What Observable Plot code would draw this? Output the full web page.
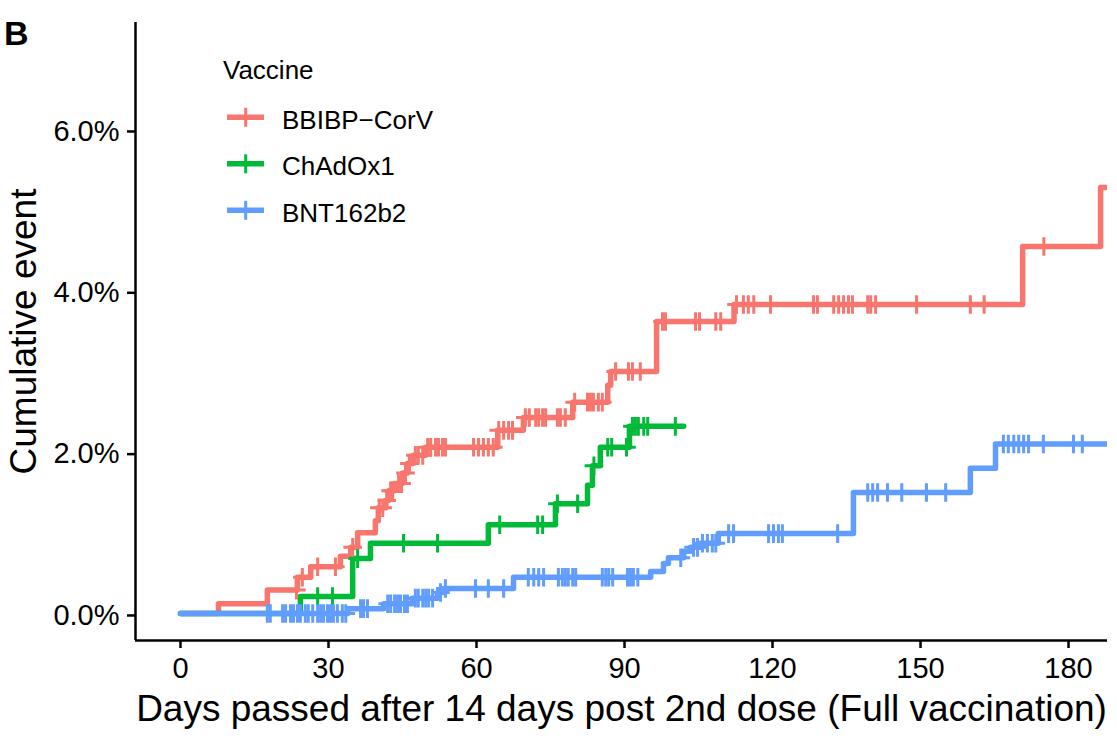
<!DOCTYPE html>
<html>
<head>
<meta charset="utf-8">
<script src="https://cdn.jsdelivr.net/npm/d3@7"></script>
<script src="https://cdn.jsdelivr.net/npm/@observablehq/plot@0.6"></script>
<style>
  html, body { margin: 0; padding: 0; background: #fff; }
  #wrap { position: relative; width: 1117px; height: 738px; font-family: "Liberation Sans", Arial, Helvetica, sans-serif; }
  #overlay { position: absolute; left: 0; top: 0; pointer-events: none; }
</style>
</head>
<body>
<div id="wrap"></div>
<script>
// ---- data ----
const vaccines = ["BBIBP\u2212CorV", "ChAdOx1", "BNT162b2"];
const colors = ["#F8766D", "#00BA38", "#619CFF"];

const redTimes = [0, 7.7, 17.6, 23.7, 26.4, 32.4, 34.5, 35.9, 39.5, 40.1, 41.6, 42.2, 43.4, 45.0, 46.0, 47.2, 49.7, 64.3, 69.5, 79.5, 86.6, 87.2, 96.5, 112.2, 170.7, 186.5, 190];
const redCum   = [0, 0.12, 0.29, 0.45, 0.58, 0.71, 0.82, 1.00, 1.15, 1.31, 1.40, 1.52, 1.61, 1.74, 1.86, 1.96, 2.06, 2.27, 2.43, 2.62, 2.83, 3.00, 3.62, 3.83, 4.55, 5.28, 5.28];
const redCensor = [23.5, 24.7, 27.8, 31.4, 34.9, 40.3, 41.0, 41.8, 42.6, 43.0, 44.2, 44.8, 45.6, 46.4, 47.6, 48.2, 49.1, 50.1, 50.7, 51.7, 52.3, 53.1, 53.7, 59.4, 60.4, 61.4, 62.4, 63.4, 64.5, 65.5, 66.5, 67.3, 69.9, 70.7, 72.0, 72.6, 73.4, 74.0, 76.4, 77.0, 78.0, 79.9, 82.5, 83.1, 83.7, 84.7, 85.5, 88.2, 90.8, 91.6, 93.2, 97.7, 98.3, 104.4, 105.2, 108.5, 109.5, 112.7, 114.1, 115.1, 116.2, 119.6, 128.3, 129.1, 132.4, 133.4, 134.4, 135.4, 136.2, 139.3, 139.9, 140.9, 149.2, 160.1, 162.9, 175.0];

const greenTimes = [0, 24.3, 34.9, 38.5, 62.4, 76.0, 82.5, 83.5, 85.1, 91.0, 102.0];
const greenCum   = [0, 0.21, 0.68, 0.87, 1.10, 1.36, 1.59, 1.83, 2.06, 2.32, 2.32];
const greenCensor = [27.8, 30.8, 35.9, 45.2, 52.1, 64.7, 72.4, 73.4, 76.4, 80.5, 83.8, 86.6, 87.4, 90.4, 91.6, 92.2, 92.8, 93.9, 94.7, 100.3];

const blueTimes = [0, 33.9, 41.2, 47.0, 52.1, 53.3, 67.5, 95.3, 97.9, 98.9, 102.0, 103.4, 105.4, 109.0, 136.4, 160.1, 165.2, 190];
const blueCum   = [0, 0.06, 0.12, 0.19, 0.26, 0.31, 0.45, 0.52, 0.62, 0.69, 0.77, 0.82, 0.87, 0.99, 1.50, 1.80, 2.10, 2.10];
const blueCensor = [17.6, 18.2, 20.7, 21.3, 22.3, 22.9, 23.7, 24.3, 25.3, 25.9, 26.8, 27.8, 28.4, 29.0, 29.8, 30.4, 31.0, 31.8, 32.8, 33.5, 36.5, 37.1, 37.9, 42.0, 42.6, 43.4, 44.0, 44.6, 45.4, 46.0, 47.6, 48.2, 49.1, 49.7, 50.3, 51.1, 52.7, 53.7, 59.8, 62.4, 65.5, 70.5, 71.6, 72.6, 73.6, 76.6, 77.4, 78.0, 78.6, 79.5, 80.1, 85.5, 86.2, 86.8, 87.6, 90.6, 91.2, 91.8, 92.7, 101.4, 104.0, 104.8, 105.8, 106.8, 107.8, 108.5, 111.1, 112.1, 119.2, 120.2, 121.2, 122.0, 133.2, 139.3, 140.3, 141.3, 143.3, 146.2, 151.2, 155.1, 166.8, 167.8, 168.9, 169.9, 170.9, 171.9, 174.9, 181.0, 182.8];

const xTicks = [0, 30, 60, 90, 120, 150, 180];
const yTicks = [0, 2, 4, 6];
const xTitle = "Days passed after 14 days post 2nd dose (Full vaccination)";
const yTitle = "Cumulative event";
const legendTitle = "Vaccine";
const panelLabel = "B";

// ---- build tables ----
const series = [
  {name: vaccines[0], color: colors[0], times: redTimes, cum: redCum, censor: redCensor},
  {name: vaccines[1], color: colors[1], times: greenTimes, cum: greenCum, censor: greenCensor},
  {name: vaccines[2], color: colors[2], times: blueTimes, cum: blueCum, censor: blueCensor}
];
function valueAt(s, d) {
  const i = d3.bisectRight(s.times, d) - 1;
  return s.cum[Math.max(0, i)];
}
const font = "'Liberation Sans', Arial, Helvetica, sans-serif";
const plusSymbol = {
  draw(ctx) {
    const h = 9.3;
    ctx.moveTo(-h, 0); ctx.lineTo(h, 0);
    ctx.moveTo(0, -h); ctx.lineTo(0, h);
  }
};

const xDomain = [-9.12, 187.9];
const yDomain = [-0.335, 7.326];

const lineMarks = series.map(s => Plot.line(
  s.times.map((t, i) => ({t, v: s.cum[i]})),
  {x: "t", y: "v", curve: "step-after", stroke: s.color, strokeWidth: 5.5, strokeLinejoin: "round", clip: true}
));
const censorMarks = series.map(s => Plot.dot(
  s.censor.map(d => ({t: d, v: valueAt(s, d)})),
  {x: "t", y: "v", symbol: plusSymbol, fill: "none", stroke: s.color, strokeWidth: 3, clip: true}
));

const chart = Plot.plot({
  width: 1117,
  height: 738,
  marginLeft: 135,
  marginRight: 10,
  marginTop: 22,
  marginBottom: 98,
  style: {fontFamily: font, background: "#fff", color: "black"},
  x: {domain: xDomain},
  y: {domain: yDomain},
  marks: [
    Plot.axisX({ticks: xTicks, tickSize: 8, tickPadding: 9, fontSize: 29, strokeWidth: 2.5, color: "black", label: null}),
    Plot.axisY({ticks: yTicks, tickSize: 8, tickPadding: 8, fontSize: 29, strokeWidth: 2.5, color: "black", label: null, dy: 2,
      tickFormat: d => d.toFixed(1) + "%"}),
    Plot.ruleX([xDomain[0]], {stroke: "black", strokeWidth: 2.5}),
    Plot.ruleY([yDomain[0]], {stroke: "black", strokeWidth: 2.5}),
    ...lineMarks,
    ...censorMarks,
    Plot.text([xTitle], {frameAnchor: "bottom", dy: 80, lineAnchor: "bottom", textAnchor: "middle", fontSize: 37, fill: "black"}),
    Plot.text([yTitle], {frameAnchor: "left", dx: -100, rotate: -90, lineAnchor: "bottom", textAnchor: "middle", fontSize: 37, fill: "black"})
  ]
});

const wrap = document.getElementById("wrap");
wrap.appendChild(chart);

// legend + panel label overlay
const ov = d3.select(wrap).append("svg").attr("id", "overlay")
  .attr("width", 1117).attr("height", 738)
  .style("font-family", font);
ov.append("text").attr("x", 4).attr("y", 45).attr("font-size", 34).attr("font-weight", "bold").text(panelLabel);
ov.append("text").attr("x", 223).attr("y", 79).attr("font-size", 26).text(legendTitle);
series.forEach((s, i) => {
  const y = 117.3 + i * 46.5;
  const g = ov.append("g");
  g.append("line").attr("x1", 227).attr("x2", 264).attr("y1", y).attr("y2", y)
    .attr("stroke", s.color).attr("stroke-width", 5.5);
  g.append("line").attr("x1", 245.7).attr("x2", 245.7).attr("y1", y - 9.5).attr("y2", y + 9.5)
    .attr("stroke", s.color).attr("stroke-width", 3);
  g.append("text").attr("x", 282).attr("y", y + 11.5).attr("font-size", 26).text(s.name);
});
</script>
</body>
</html>
